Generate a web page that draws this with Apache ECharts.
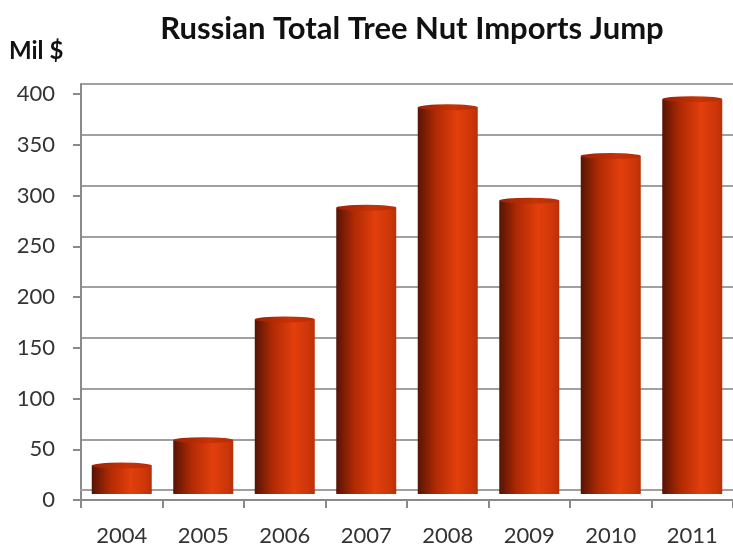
<!DOCTYPE html>
<html>
<head>
<meta charset="utf-8">
<script src="https://cdn.jsdelivr.net/npm/echarts@6/dist/echarts.min.js"></script>
<style>html,body{margin:0;padding:0;background:#fff}#c{width:733px;height:548px}</style>
</head>
<body>
<div id="c"></div>
<script>
var categories = ['2004','2005','2006','2007','2008','2009','2010','2011'];
var values = [28, 53, 172, 282, 381, 289, 333, 389];
var yTicks = [0, 50, 100, 150, 200, 250, 300, 350, 400];

var chart = echarts.init(document.getElementById('c'));
var bodyGrad = new echarts.graphic.LinearGradient(0, 0, 1, 0, [
  {offset: 0, color: '#561405'},
  {offset: 0.3, color: '#b02a04'},
  {offset: 0.65, color: '#e23f0c'},
  {offset: 0.9, color: '#cc3608'},
  {offset: 1, color: '#b8300a'}
]);
var font = 'Lato, "Open Sans", sans-serif';
var gridW = 660, gridL = 81, gridH = 406;
function grid(top) { return {left: gridL, top: top, width: gridW, height: gridH, containLabel: false}; }
function yAx(idx, show) {
  return {
    gridIndex: idx, type: 'value', min: yTicks[0], max: yTicks[yTicks.length - 1], interval: 50,
    axisLabel: {show: show, fontFamily: font, fontSize: 22, color: '#333', margin: 26},
    axisTick: {show: show, length: 8, lineStyle: {color: '#8a8a8a', width: 2}},
    axisLine: {show: idx !== 1, lineStyle: {color: '#8a8a8a', width: 2}},
    splitLine: {show: idx === 2, lineStyle: {color: '#a0a0a0', width: 2}}
  };
}
function xAx(idx, show) {
  return {
    gridIndex: idx, type: 'category', data: categories,
    axisLabel: {show: show, fontFamily: font, fontSize: 22, color: '#333', margin: 25},
    axisTick: {show: show, length: 8, lineStyle: {color: '#8a8a8a', width: 2}},
    axisLine: {show: idx !== 1, lineStyle: {color: idx === 2 ? '#a0a0a0' : '#8a8a8a', width: 2}},
    splitLine: {show: false}
  };
}
chart.setOption({
  animation: false,
  title: {
    text: 'Russian Total Tree Nut Imports Jump', left: 407, top: 8, textAlign: 'center',
    textStyle: {fontFamily: font, fontWeight: 'bold', fontSize: 31, color: '#111'}
  },
  graphic: [{
    type: 'text', left: 9, top: 39,
    style: {text: 'Mil $', fontFamily: font, fontWeight: 'bold', fontSize: 24, fill: '#111'}
  }],
  grid: [grid(94), grid(88), grid(84)],
  xAxis: [xAx(0, true), xAx(1, false), xAx(2, false)],
  yAxis: [yAx(0, true), yAx(1, false), yAx(2, false)],
  series: [
    {type: 'bar', xAxisIndex: 2, yAxisIndex: 2, data: [], z: 1},
    {type: 'bar', xAxisIndex: 1, yAxisIndex: 1, data: values, barWidth: 60,
     itemStyle: {color: bodyGrad}, z: 3},
    {type: 'pictorialBar', xAxisIndex: 1, yAxisIndex: 1, data: values,
     symbol: 'circle', symbolSize: [60, 6], symbolPosition: 'start', symbolOffset: [0, 0],
     itemStyle: {color: bodyGrad}, z: 2},
    {type: 'pictorialBar', xAxisIndex: 1, yAxisIndex: 1, data: values,
     symbol: 'circle', symbolSize: [60, 6], symbolPosition: 'end', symbolOffset: [0, '-50%'],
     itemStyle: {color: new echarts.graphic.LinearGradient(0, 0, 1, 0, [
       {offset: 0, color: '#9a2206'}, {offset: 0.6, color: '#c83206'}, {offset: 1, color: '#b62c06'}])}, z: 4}
  ]
});
</script>
</body>
</html>
